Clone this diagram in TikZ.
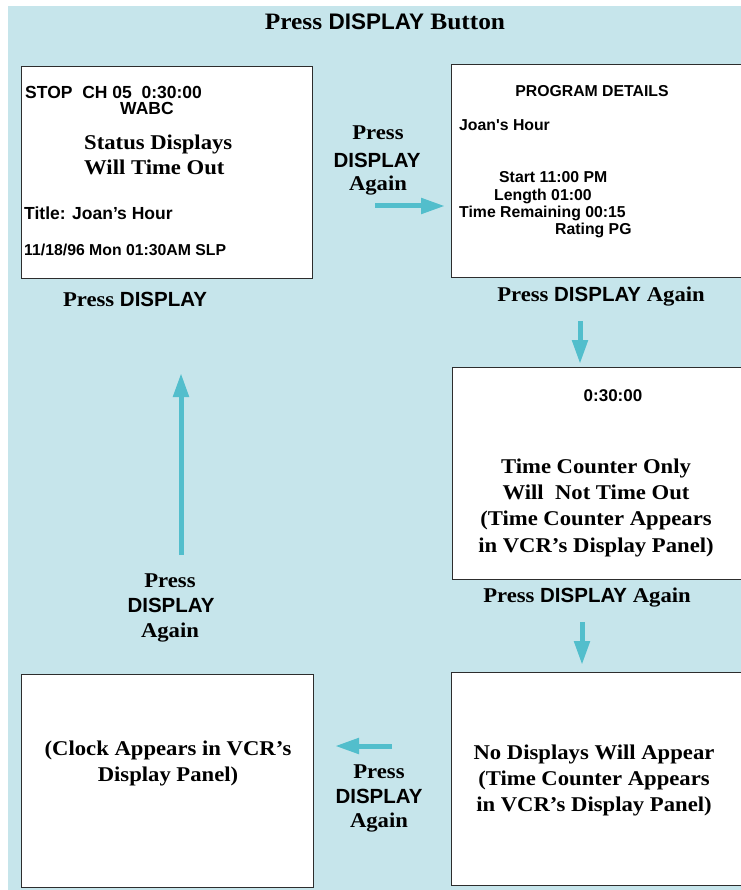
\documentclass[tikz,border=0pt]{standalone}
\usepackage{fontspec}
\setmainfont{Liberation Serif}[FakeStretch=1.08]
\newfontfamily\arialf{Liberation Sans}
\usetikzlibrary{arrows.meta}
\definecolor{bgc}{RGB}{198,229,235}
\definecolor{arc}{RGB}{82,190,204}
\definecolor{bdc}{RGB}{45,45,45}
\newcommand{\dsp}{{\arialf\fontsize{20.5}{22}\selectfont DISPLAY}}
\tikzset{
  scr/.style={draw=bdc, line width=1.3pt, fill=white, inner sep=0pt, anchor=north west},
  ser/.style={inner sep=0pt, anchor=base, font=\fontsize{21}{24}\selectfont\bfseries},
  serl/.style={ser, anchor=base west},
  sans/.style={inner sep=0pt, anchor=base west, font=\arialf\fontsize{15.8}{18}\selectfont\bfseries},
  sansb/.style={sans, font=\arialf\fontsize{17.5}{20}\selectfont\bfseries},
  sansc/.style={sans, anchor=base},
  lbl/.style={inner sep=0pt, anchor=base, font=\arialf\fontsize{20.5}{22}\selectfont\bfseries},
  arr/.style={draw=arc, line width=5pt, -{Triangle[length=24pt,width=15pt]}}
}
\begin{document}
\begin{tikzpicture}[x=1pt,y=-1pt]
\useasboundingbox (0,0) rectangle (740,890);
\fill[bgc] (8,6) rectangle (742,892);
% title
\node[ser, font=\fontsize{23.5}{26}\selectfont\bfseries] (title) at (385,30) {Press {\arialf\fontsize{22.5}{24}\selectfont DISPLAY} Button};
% boxes
\node[scr, minimum width=291pt, minimum height=212pt] (b1) at (21,66) {};
\node[scr, minimum width=292pt, minimum height=213pt] (b2) at (451,64) {};
\node[scr, minimum width=291pt, minimum height=212pt] (b3) at (452,367) {};
\node[scr, minimum width=292pt, minimum height=213pt] (b4) at (21,674) {};
\node[scr, minimum width=292pt, minimum height=213pt] (b5) at (451,672) {};
% box 1 text
\node[sansb] (t1a) at (25,99) {STOP\ \ CH 05\ \ 0:30:00};
\node[sansb] (t1b) at (120,115) {WABC};
\node[serl] (t1c) at (84,150) {Status Displays};
\node[serl] (t1d) at (84,175) {Will Time Out};
\node[sansb] (t1e) at (24,220) {Title: Joan’s Hour};
\node[sans] (t1f) at (24,255) {11/18/96 Mon 01:30AM SLP};
\node[ser] (p1) at (135,306) {Press \dsp};
% box 2 text
\node[sansc] (t2a) at (592,97) {PROGRAM DETAILS};
\node[sans] (t2b) at (459,131) {Joan's Hour};
\node[sans] (t2c) at (499,183) {Start 11:00 PM};
\node[sans] (t2d) at (494,201) {Length 01:00};
\node[sans] (t2e) at (459,218) {Time Remaining 00:15};
\node[sans] (t2f) at (555,235) {Rating PG};
\node[ser] (p2) at (601,301) {Press \dsp{} Again};
% label between box1 and box2
\node[ser] (l1a) at (378,140) {Press};
\node[lbl] (l1b) at (377,168) {DISPLAY};
\node[ser] (l1c) at (378,191) {Again};
% box 3 text
\node[sansc, font=\arialf\fontsize{17}{20}\selectfont\bfseries] (t3a) at (613,401) {0:30:00};
\node[ser] (t3b) at (596,473) {Time Counter Only};
\node[ser] (t3c) at (596,499) {Will\ \ Not Time Out};
\node[ser] (t3d) at (596,525) {(Time Counter Appears};
\node[ser] (t3e) at (596,552) {in VCR’s Display Panel)};
\node[ser] (p3) at (587,602) {Press \dsp{} Again};
% box 5 text
\node[ser] (t5a) at (594,759) {No Displays Will Appear};
\node[ser] (t5b) at (594,785) {(Time Counter Appears};
\node[ser] (t5c) at (594,811) {in VCR’s Display Panel)};
% box 4 text
\node[ser] (t4a) at (168,755) {(Clock Appears in VCR’s};
\node[ser] (t4b) at (168,781) {Display Panel)};
% label bottom middle
\node[ser] (l2a) at (379,778) {Press};
\node[lbl] (l2b) at (379,803) {DISPLAY};
\node[ser] (l2c) at (379,827) {Again};
% label left
\node[ser] (l3a) at (170,587) {Press};
\node[lbl] (l3b) at (171,612) {DISPLAY};
\node[ser] (l3c) at (170,637) {Again};
% arrows
\coordinate (a1s) at (375,206);
\coordinate (a1e) at (445,206);
\coordinate (a2s) at (580,321);
\coordinate (a2e) at (580,364);
\coordinate (a3s) at (582,622);
\coordinate (a3e) at (582,665);
\coordinate (a4s) at (392,746);
\coordinate (a4e) at (335,746);
\coordinate (a5s) at (181,555);
\coordinate (a5e) at (181,373);
\draw[arr] (a1s) -- (a1e);
\draw[arr] (a2s) -- (a2e);
\draw[arr] (a3s) -- (a3e);
\draw[arr] (a4s) -- (a4e);
\draw[arr] (a5s) -- (a5e);
\end{tikzpicture}
\end{document}
